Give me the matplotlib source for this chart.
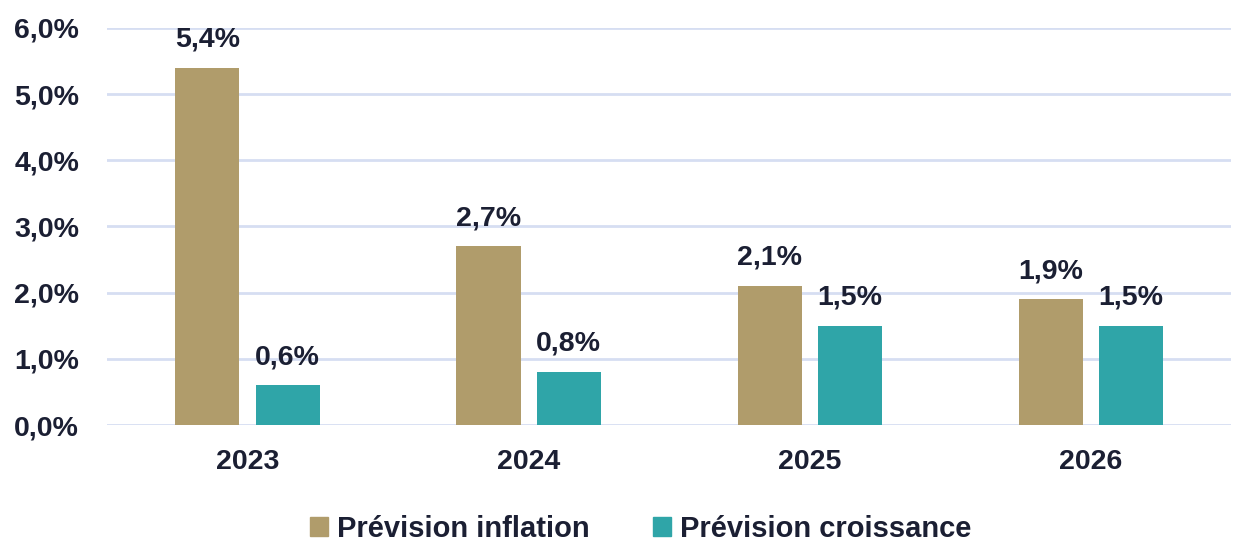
import matplotlib
matplotlib.use("Agg")
import matplotlib.pyplot as plt
from matplotlib.patches import Patch
import numpy as np

years = ["2023", "2024", "2025", "2026"]
inflation = [5.4, 2.7, 2.1, 1.9]
croissance = [0.6, 0.8, 1.5, 1.5]
yticks = [0, 1, 2, 3, 4, 5, 6]
series_names = ["Prévision inflation", "Prévision croissance"]

c_infl = "#B09C6B"
c_croi = "#2FA5A8"
txt = "#1B1F33"

plt.rcParams["font.family"] = ["Liberation Sans", "DejaVu Sans"]
plt.rcParams["font.weight"] = "bold"

fig = plt.figure(figsize=(12.37, 5.45), dpi=100)
ax = fig.add_axes([0.0865, 0.220, 0.909, 0.729])

x = np.arange(len(years))
w = 0.228
off = 0.143
b1 = ax.bar(x - off, inflation, w, color=c_infl, zorder=3)
b2 = ax.bar(x + off, croissance, w, color=c_croi, zorder=3)

def fmt(v):
    return f"{v:.1f}%".replace(".", ",")

# étiquettes de valeurs au-dessus des barres
for bars, vals in [(b1, inflation), (b2, croissance)]:
    for r, v in zip(bars, vals):
        ax.annotate(fmt(v), (r.get_x() + r.get_width() / 2, v),
                    xytext=(0, 11), textcoords="offset points",
                    ha="center", va="bottom", fontsize=20.5,
                    fontweight="bold", color=txt)

ax.set_xlim(-0.5, 3.5)
ax.set_ylim(0, 6)
ax.set_yticks(yticks)
ax.set_yticklabels([fmt(t) for t in yticks])
ax.set_xticks(x)
ax.set_xticklabels(years)
ax.tick_params(axis="both", length=0, labelsize=20.5, labelcolor=txt)
ax.tick_params(axis="y", pad=20)
ax.tick_params(axis="x", pad=17)
for lbl in ax.get_xticklabels() + ax.get_yticklabels():
    lbl.set_fontweight("bold")

ax.grid(axis="y", color="#D6DEF2", linewidth=2, zorder=0)
for s in ax.spines.values():
    s.set_visible(False)

handles = [Patch(color=c_infl), Patch(color=c_croi)]
leg = fig.legend(handles, series_names, loc="center", bbox_to_anchor=(0.518, 0.03),
                 ncol=2, frameon=False, fontsize=21, handlelength=0.6,
                 handleheight=0.6, handletextpad=0.3, columnspacing=2.2)
for t in leg.get_texts():
    t.set_color(txt)
    t.set_fontweight("bold")

fig.savefig("out.png", dpi=100)
